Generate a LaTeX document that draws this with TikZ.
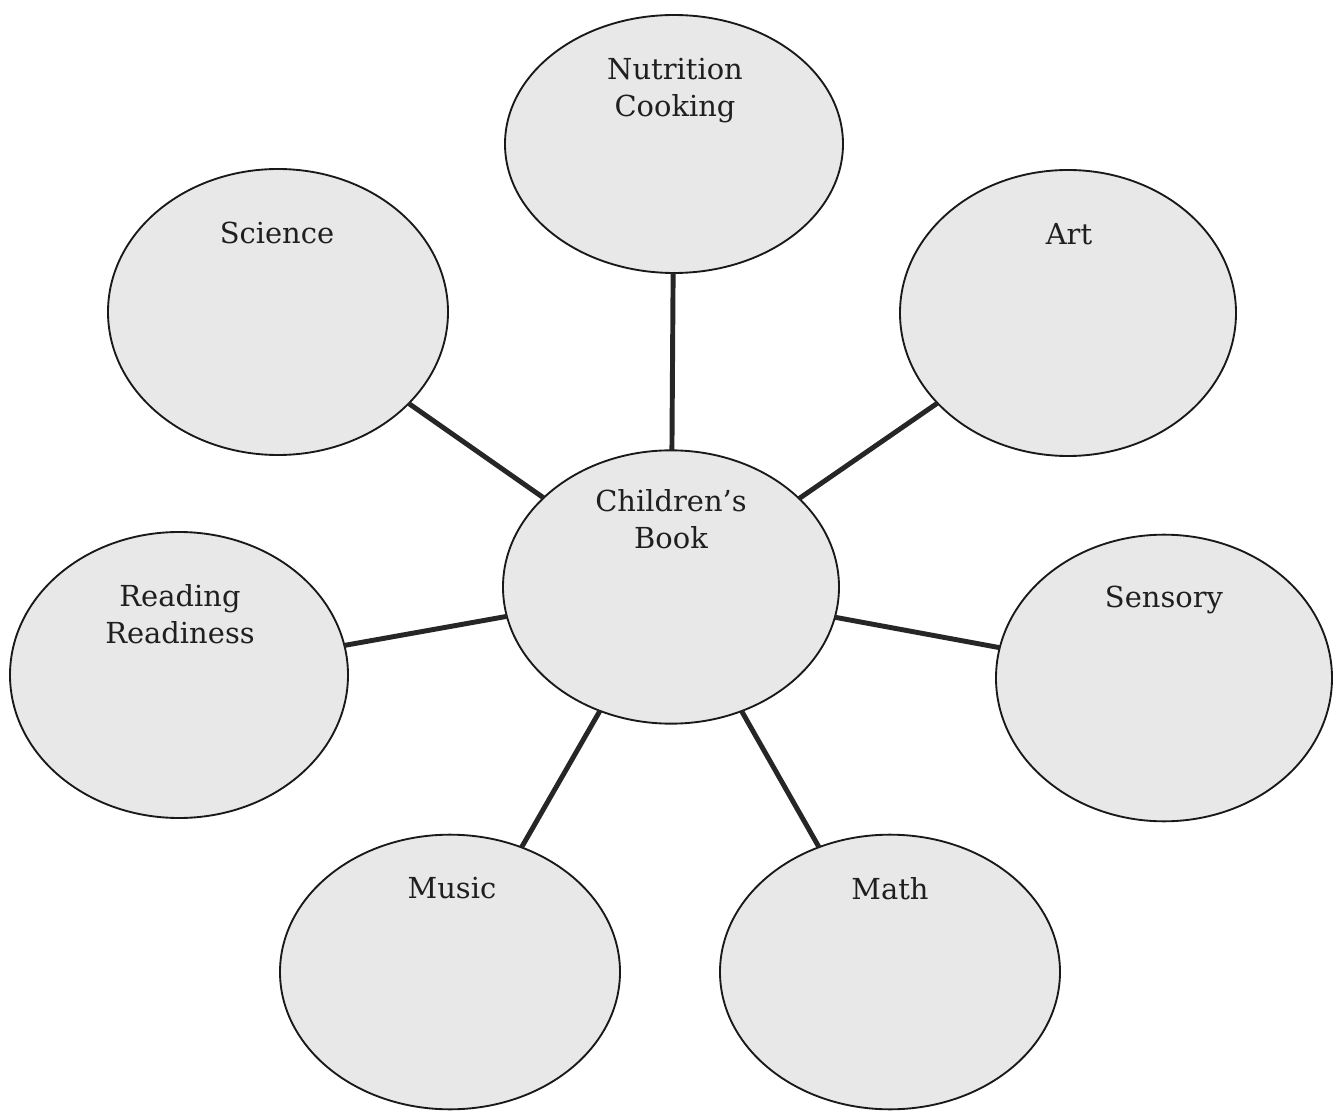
\documentclass[tikz,border=0pt]{standalone}
\usepackage{fontspec}
\setmainfont{DejaVu Serif}
\usetikzlibrary{shapes.geometric}
\begin{document}
\begin{tikzpicture}[x=0.75pt,y=-0.75pt,
  bubble/.style={ellipse,draw=black!90,line width=1.4pt,fill=black!9,inner sep=0pt,outer sep=0pt},
  lbl/.style={align=center,font=\fontsize{21.7pt}{27.75pt}\selectfont,text=black!88,inner sep=0pt},
  link/.style={line width=3.7pt,draw=black!85}]
\useasboundingbox (0,0) rectangle (1340,1112);
\node[bubble,minimum width=253.5pt,minimum height=193.5pt] (nut) at (674,144) {};
\node[bubble,minimum width=255pt,minimum height=214.5pt] (sci) at (278,312) {};
\node[bubble,minimum width=252pt,minimum height=214.5pt] (art) at (1068,313) {};
\node[bubble,minimum width=252pt,minimum height=205pt] (book) at (671,587) {};
\node[bubble,minimum width=253.5pt,minimum height=214.5pt] (read) at (179,675) {};
\node[bubble,minimum width=252pt,minimum height=215pt] (sens) at (1164,678) {};
\node[bubble,minimum width=255pt,minimum height=206pt] (music) at (450,972) {};
\node[bubble,minimum width=255pt,minimum height=206pt] (math) at (890,972) {};
\draw[link] (book) -- (nut);
\draw[link] (book) -- (sci);
\draw[link] (book) -- (art);
\draw[link] (book) -- (read);
\draw[link] (book) -- (sens);
\draw[link] (book) -- (music);
\draw[link] (book) -- (math);
\node[lbl] (nutt) at (675,91) {Nutrition\\Cooking};
\node[lbl] (scit) at (277,233) {Science};
\node[lbl] (artt) at (1069,234) {Art};
\node[lbl] (bookt) at (671,519) {Children’s\\Book};
\node[lbl] (readt) at (180,614) {Reading\\Readiness};
\node[lbl] (senst) at (1164,600) {Sensory};
\node[lbl] (musict) at (452,888) {Music};
\node[lbl] (matht) at (890,889) {Math};
\end{tikzpicture}
\end{document}
